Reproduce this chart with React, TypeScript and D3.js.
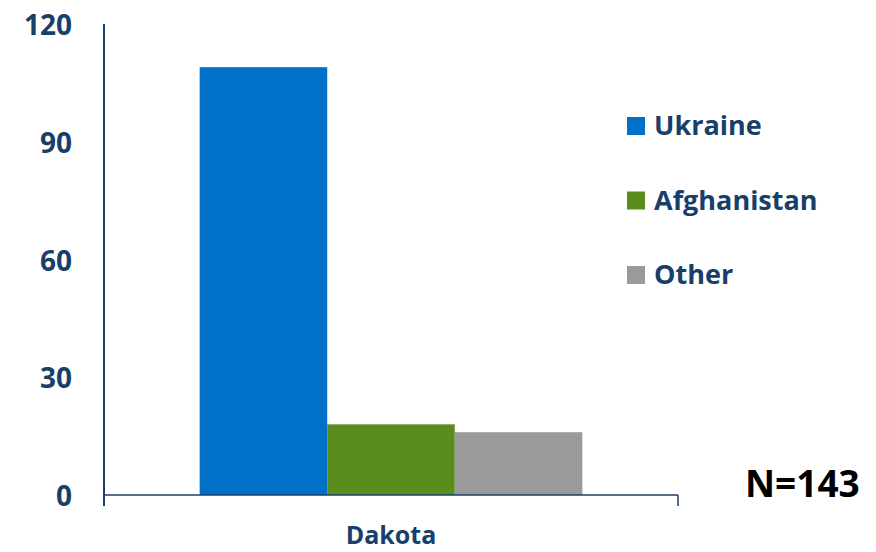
import React from "react";
import * as d3 from "d3";

const categories = ["Dakota"];
const seriesNames = ["Ukraine", "Afghanistan", "Other"];
const seriesValues = [109, 18, 16];
const seriesColors = ["#0070C8", "#5B8C1E", "#9A9A9C"];
const yTicks = [0, 30, 60, 90, 120];
const noteText = "N=143";

const W = 876;
const H = 552;
const FONT = "'Open Sans', sans-serif";
const TEXT_COLOR = "#173F6A";
const AXIS_COLOR = "#1B3F6B";

export default function App() {
  const x0 = 104;
  const x1 = 678;
  const yTop = 24;
  const yBottom = 495;

  const y = d3.scaleLinear().domain([0, 120]).range([yBottom, yTop]);
  const xCat = d3.scaleBand().domain(categories).range([x0, x1]).paddingInner(0).paddingOuter(0.25);
  const xSeries = d3.scaleBand().domain(seriesNames).range([0, xCat.bandwidth()]).padding(0);

  return (
    <div style={{ position: "absolute", left: 0, top: 0 }}>
      <svg width={W} height={H} style={{ display: "block", background: "#fff" }}>
        {/* bars */}
        {categories.map((c) => (
          <g key={c} transform={`translate(${xCat(c)},0)`}>
            {seriesNames.map((s, i) => (
              <rect
                key={s}
                x={xSeries(s)}
                y={y(seriesValues[i])}
                width={xSeries.bandwidth()}
                height={y(0) - y(seriesValues[i])}
                fill={seriesColors[i]}
              />
            ))}
          </g>
        ))}
        {/* y axis */}
        <line x1={x0} x2={x0} y1={yTop} y2={yBottom + 11} stroke={AXIS_COLOR} strokeWidth={2} />
        {yTicks.map((t) => (
          <text
            key={t}
            x={72}
            y={y(t)}
            textAnchor="end"
            dominantBaseline="central"
            fontFamily={FONT}
            fontWeight={700}
            fontSize={28}
            fill={TEXT_COLOR}
          >
            {t}
          </text>
        ))}
        {/* x axis */}
        <line x1={x0} x2={x1} y1={yBottom} y2={yBottom} stroke={AXIS_COLOR} strokeWidth={1.5} />
        <line x1={x1} x2={x1} y1={yBottom} y2={yBottom + 11} stroke={AXIS_COLOR} strokeWidth={1.5} />
        {categories.map((c) => (
          <text
            key={c}
            x={(xCat(c) as number) + xCat.bandwidth() / 2}
            y={544}
            textAnchor="middle"
            fontFamily={FONT}
            fontWeight={700}
            fontSize={25}
            fill={TEXT_COLOR}
          >
            {c}
          </text>
        ))}
        {/* legend */}
        {seriesNames.map((s, i) => {
          const cy = 126 + i * 74.5;
          return (
            <g key={s}>
              <rect x={627} y={cy - 9} width={18} height={18} fill={seriesColors[i]} />
              <text
                x={654}
                y={cy + 9}
                fontFamily={FONT}
                fontWeight={700}
                fontSize={27}
                fill={TEXT_COLOR}
              >
                {s}
              </text>
            </g>
          );
        })}
        {/* note */}
        <text x={745} y={497} fontFamily={FONT} fontWeight={700} fontSize={37} fill="#000">
          {noteText}
        </text>
      </svg>
    </div>
  );
}
